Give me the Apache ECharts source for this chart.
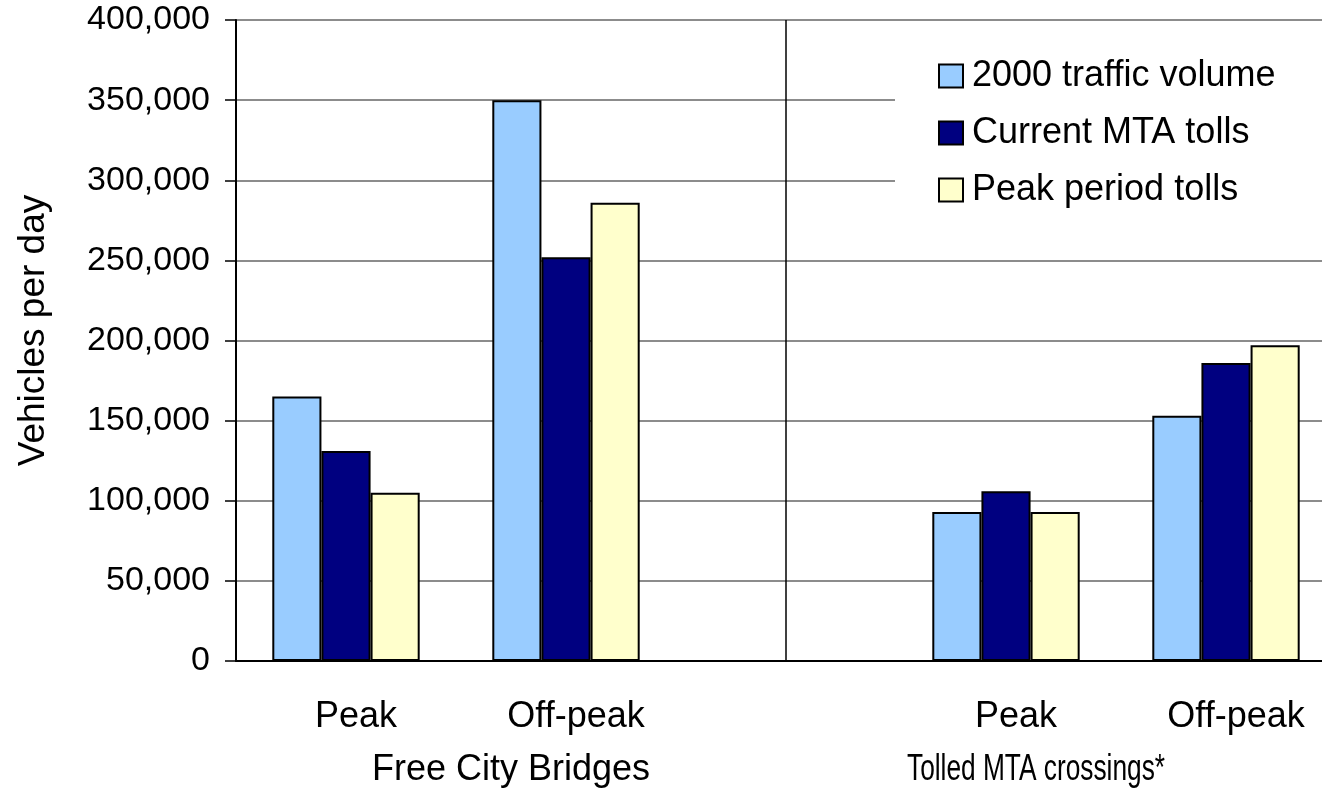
<!DOCTYPE html>
<html>
<head>
<meta charset="utf-8">
<title>Vehicles per day</title>
<script src="https://cdn.jsdelivr.net/npm/echarts@6/dist/echarts.min.js"></script>
<style>
  html, body { margin: 0; padding: 0; background: #fff; }
  #chart { width: 1322px; height: 794px; }
</style>
</head>
<body>
<div id="chart"></div>
<script>
  // categories (middle slot is the empty gap between the two groups)
  var periods = ['Peak', 'Off-peak', '', 'Peak', 'Off-peak'];
  var groups = ['Free City Bridges', 'Tolled MTA crossings*'];
  var seriesNames = ['2000 traffic volume', 'Current MTA tolls', 'Peak period tolls'];

  // vehicles per day
  var traffic2000 = [165000, 350000, null, 93000, 153000];
  var currentTolls = [131000, 252000, null, 106000, 186000];
  var peakTolls = [105000, 286000, null, 93000, 197000];

  var yTicks = { min: 0, max: 400000, step: 50000 };

  var font = 'Liberation Sans, Arial, sans-serif';
  var colors = ['#99CCFF', '#000080', '#FFFFCC'];

  var chart = echarts.init(document.getElementById('chart'));

  function bar(name, data, color) {
    return {
      name: name,
      type: 'bar',
      data: data,
      barGap: '0%',
      barCategoryGap: '33%',
      itemStyle: { color: color, borderColor: '#000', borderWidth: 2 }
    };
  }

  chart.setOption({
    animation: false,
    backgroundColor: '#fff',
    textStyle: { fontFamily: font, color: '#000' },
    grid: { left: 236, top: 20, width: 1100, height: 641, outerBoundsMode: 'none' },
    legend: {
      orient: 'vertical',
      left: 895,
      top: 30,
      padding: [28, 100, 28, 43],
      backgroundColor: '#fff',
      itemWidth: 24,
      itemHeight: 23,
      itemGap: 21,
      icon: 'rect',
      itemStyle: { borderColor: '#000', borderWidth: 2 },
      textStyle: { fontSize: 36, fontFamily: font, color: '#000', padding: [0, 0, 0, 4] },
      data: seriesNames
    },
    xAxis: [
      {
        type: 'category',
        data: periods,
        axisLine: { lineStyle: { color: '#000', width: 2 } },
        axisTick: { show: false },
        axisLabel: { fontSize: 36, color: '#000', margin: 38, padding: [0, 0, 0, 20], interval: 0 },
        splitLine: { show: false },
        z: 3
      },
      {
        // group row underneath; its split line is the divider between the groups
        type: 'category',
        data: groups,
        position: 'bottom',
        axisLine: { show: false },
        axisTick: { show: false },
        splitLine: { show: true, lineStyle: { color: '#000', width: 1.5 } },
        axisLabel: {
          fontSize: 36, color: '#000', margin: 91, interval: 0,
          // the second group title is drawn narrower below
          formatter: function (v, i) { return i ? '' : v; }
        }
      }
    ],
    yAxis: {
      type: 'value',
      min: yTicks.min,
      max: yTicks.max,
      interval: yTicks.step,
      name: 'Vehicles per day',
      nameLocation: 'middle',
      nameRotate: 90,
      nameGap: 184,
      nameTextStyle: { fontSize: 37, color: '#000', padding: [0, 0, 0, 20] },
      axisLine: { show: true, lineStyle: { color: '#000', width: 2 } },
      axisTick: { show: true, length: 11, lineStyle: { color: '#000', width: 1.5 } },
      axisLabel: {
        fontSize: 34, color: '#000', margin: 26,
        formatter: function (v) { return v.toLocaleString('en-US'); }
      },
      splitLine: { lineStyle: { color: '#666', width: 1.5 } }
    },
    series: [
      bar(seriesNames[0], traffic2000, colors[0]),
      bar(seriesNames[1], currentTolls, colors[1]),
      bar(seriesNames[2], peakTolls, colors[2])
    ]
  });

  // condensed title for the tolled group, placed from the group axis
  var gx = chart.convertToPixel({ xAxisIndex: 1 }, groups[1]) - 25;
  var gy = chart.convertToPixel({ yAxisIndex: 0 }, 0) + 91;
  chart.setOption({
    graphic: [{
      type: 'text',
      x: gx,
      y: gy,
      scaleX: 0.73,
      style: {
        text: groups[1],
        fontSize: 36,
        fontFamily: font,
        fill: '#000',
        align: 'center',
        verticalAlign: 'top'
      }
    }]
  });
  window.onresize = chart.resize;
</script>
</body>
</html>
